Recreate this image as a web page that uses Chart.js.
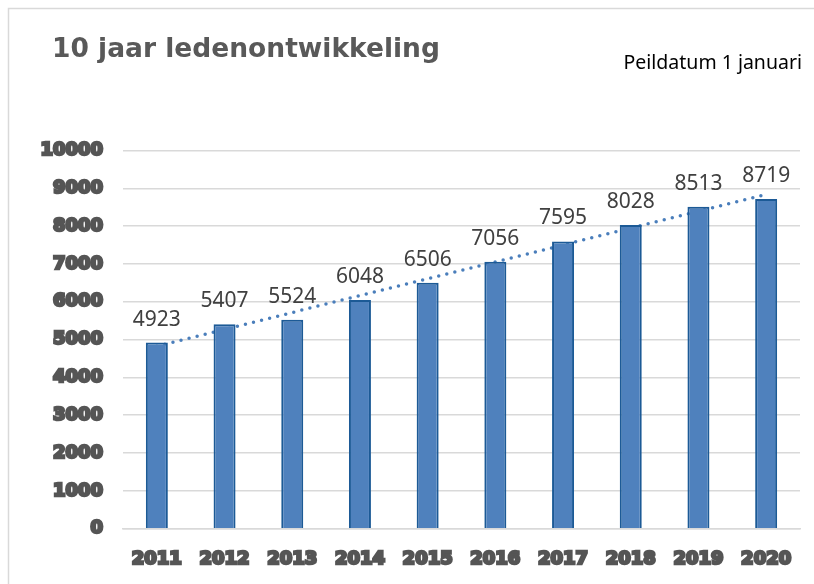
<!DOCTYPE html>
<html>
<head>
<meta charset="utf-8">
<script src="https://cdn.jsdelivr.net/npm/chart.js@4/dist/chart.umd.min.js"></script>
<style>
  html, body { margin: 0; padding: 0; background: #fff; }
  #wrap { width: 814px; height: 584px; }
</style>
</head>
<body>
<div id="wrap"><canvas id="ledenChart" width="814" height="584"></canvas></div>
<script>
// ===== DATA =====
const years = ['2011', '2012', '2013', '2014', '2015', '2016', '2017', '2018', '2019', '2020'];
const members = [4923, 5407, 5524, 6048, 6506, 7056, 7595, 8028, 8513, 8719];
// trendline at first and last year
const trend = [4824, null, null, null, null, null, null, null, null, 8840];
const yTicks = [0, 1000, 2000, 3000, 4000, 5000, 6000, 7000, 8000, 9000, 10000];

const titleText = '10 jaar ledenontwikkeling';
const noteText = 'Peildatum 1 januari';

// frame + titles
const framePlugin = {
  id: 'frame',
  beforeDraw(chart) {
    const ctx = chart.ctx;
    ctx.save();
    ctx.fillStyle = '#fff';
    ctx.fillRect(0, 0, chart.width, chart.height);
    ctx.strokeStyle = '#d9d9d9';
    ctx.lineWidth = 1.5;
    ctx.strokeRect(8.5, 8.5, 900, 700);
    ctx.textBaseline = 'alphabetic';
    ctx.fillStyle = '#595959';
    ctx.font = 'bold 26.5px "DejaVu Sans"';
    ctx.fillText(titleText, 52, 57);
    ctx.fillStyle = '#000';
    ctx.font = '19.5px "Noto Sans"';
    ctx.textAlign = 'right';
    ctx.fillText(noteText, 802, 69);
    ctx.restore();
  }
};

// value labels above the bars
const valueLabels = {
  id: 'valueLabels',
  afterDatasetsDraw(chart) {
    const ctx = chart.ctx;
    const meta = chart.getDatasetMeta(0);
    ctx.save();
    ctx.fillStyle = '#404040';
    ctx.font = '21px "Noto Sans"';
    ctx.textAlign = 'center';
    ctx.textBaseline = 'alphabetic';
    meta.data.forEach((bar, i) => {
      ctx.fillText(String(members[i]), bar.x, bar.y - 17);
    });
    ctx.restore();
  }
};

const tickFont = { family: '"DejaVu Sans"', size: 18, weight: 'bold' };

new Chart(document.getElementById('ledenChart'), {
  type: 'bar',
  data: {
    labels: years,
    datasets: [{
      label: 'Leden',
      data: members,
      backgroundColor: '#4f81bd',
      borderColor: '#1c5a96',
      borderWidth: 2,
      categoryPercentage: 1,
      barPercentage: 0.325,
      order: 1
    }, {
      type: 'line',
      label: 'Trend',
      data: trend,
      spanGaps: true,
      borderColor: '#4a7ebb',
      borderWidth: 3.5,
      borderDash: [0, 8.3],
      borderCapStyle: 'round',
      pointRadius: 0,
      fill: false,
      order: 2
    }]
  },
  options: {
    responsive: false,
    animation: false,
    layout: { padding: { top: 150.5, right: 14, left: 0, bottom: 0 } },
    plugins: { legend: { display: false }, tooltip: { enabled: false }, title: { display: false } },
    scales: {
      x: {
        grid: { display: false, drawTicks: false },
        border: { color: '#d9d9d9', width: 1.5 },
        ticks: {
          font: tickFont, color: '#555555', padding: 20,
          textStrokeColor: '#555555', textStrokeWidth: 2.6
        },
        afterFit(scale) { scale.height = 55.3; }
      },
      y: {
        min: 0,
        max: 10000,
        afterBuildTicks(scale) { scale.ticks = yTicks.map(v => ({ value: v })); },
        grid: { color: '#d9d9d9', lineWidth: 1.5, drawTicks: false },
        border: { display: false },
        ticks: {
          font: tickFont, color: '#555555', padding: 20,
          textStrokeColor: '#555555', textStrokeWidth: 2.6,
          callback: v => String(v)
        },
        afterFit(scale) { scale.width = 123; }
      }
    }
  },
  plugins: [framePlugin, valueLabels]
});
</script>
</body>
</html>
